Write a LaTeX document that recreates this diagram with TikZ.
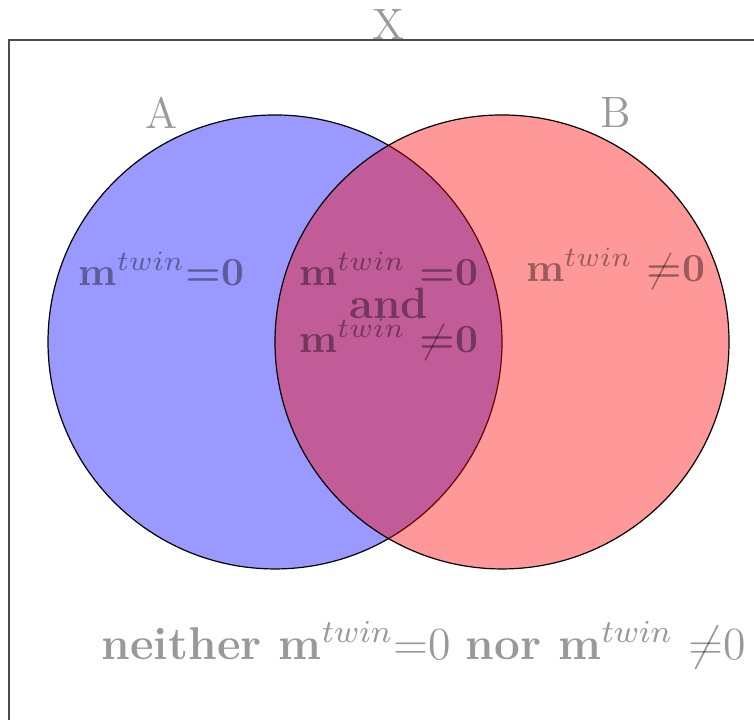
\documentclass[tikz,border=0pt]{standalone}
\usepackage{tikz}
\begin{document}
\begin{tikzpicture}[
        setcirc/.style={draw=black, line width=0.3pt, fill opacity=0.4},
        lbl/.style={text=black, text opacity=0.4, inner sep=0pt},
        biglbl/.style={lbl, font=\fontsize{11}{13}\selectfont}]
    \clip (-2.423,-3.322) rectangle (4.220,3.013);
    % universe
    \draw[black!70, line width=0.3pt] (-2.344,-4) rectangle (5,2.661);
    \node[biglbl] (univ) at (1,2.80) {X};
    % the two sets
    \filldraw[setcirc, fill=blue] (0,0) circle (2cm);
    \filldraw[setcirc, fill=red] (2,0) circle (2cm);
    \node[biglbl] (seta) at (-1,2.02) {A};
    \node[biglbl] (setb) at (3,2.02) {B};
    % regions
    \node[lbl] (onlya) at (-1,0.645) {\textbf{m}$^{twin}$\textbf{=0}};
    \node[lbl] (both1) at (1,0.645) {\textbf{m}$^{twin}$ \textbf{=0}};
    \node[biglbl] (both2) at (1,0.34) {\textbf{and}};
    \node[lbl] (both3) at (1,0.02) {\textbf{m}$^{twin}$ $\not$\textbf{=0}};
    \node[lbl] (onlyb) at (3,0.645) {\textbf{m}$^{twin}$ $\not$\textbf{=0}};
    \node[lbl, font=\fontsize{11.5}{14}\selectfont] (none) at (1.31,-2.67)
        {\textbf{neither m}$^{twin}$=0 \textbf{nor m}$^{twin}$ $\not$=0};
\end{tikzpicture}
\end{document}
